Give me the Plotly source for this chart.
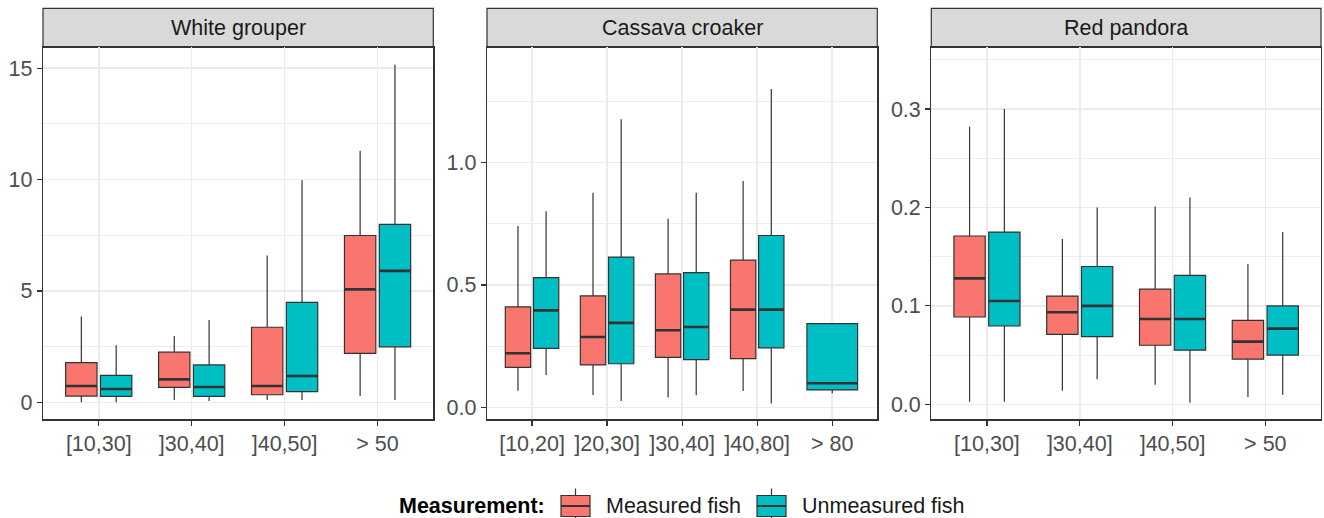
import plotly.graph_objects as go

W, H = 1324, 518

groups = ["Measured fish", "Unmeasured fish"]
colors = ["#F8766D", "#00BFC4"]
species = ["White grouper", "Cassava croaker", "Red pandora"]
legend_title = "Measurement:"

# ---- White grouper ----
wg_cats = ["[10,30]", "]30,40]", "]40,50]", "> 50"]
wg_meas_low = [0.0, 0.10, 0.10, 0.28]
wg_meas_q1 = [0.28, 0.67, 0.34, 2.20]
wg_meas_med = [0.73, 1.03, 0.73, 5.07]
wg_meas_q3 = [1.78, 2.25, 3.37, 7.49]
wg_meas_high = [3.85, 2.98, 6.59, 11.30]
wg_unm_low = [0.0, 0.06, 0.10, 0.10]
wg_unm_q1 = [0.27, 0.27, 0.48, 2.49]
wg_unm_med = [0.60, 0.69, 1.18, 5.90]
wg_unm_q3 = [1.21, 1.68, 4.49, 7.99]
wg_unm_high = [2.56, 3.70, 9.97, 15.16]

# ---- Cassava croaker ----
cc_cats = ["[10,20]", "]20,30]", "]30,40]", "]40,80]", "> 80"]
cc_meas_low = [0.068, 0.050, 0.040, 0.067, None]
cc_meas_q1 = [0.163, 0.173, 0.204, 0.199, None]
cc_meas_med = [0.221, 0.287, 0.315, 0.399, None]
cc_meas_q3 = [0.410, 0.455, 0.545, 0.601, None]
cc_meas_high = [0.741, 0.877, 0.770, 0.925, None]
cc_unm_low = [0.132, 0.026, 0.049, 0.016, 0.057]
cc_unm_q1 = [0.241, 0.178, 0.195, 0.243, 0.071]
cc_unm_med = [0.396, 0.345, 0.328, 0.399, 0.098]
cc_unm_q3 = [0.530, 0.614, 0.550, 0.702, 0.342]
cc_unm_high = [0.801, 1.177, 0.877, 1.301, 0.342]

# ---- Red pandora ----
rp_cats = ["[10,30]", "]30,40]", "]40,50]", "> 50"]
rp_meas_low = [0.0027, 0.0139, 0.020, 0.0075]
rp_meas_q1 = [0.0887, 0.0711, 0.060, 0.046]
rp_meas_med = [0.128, 0.0935, 0.0867, 0.0637]
rp_meas_q3 = [0.171, 0.110, 0.117, 0.0853]
rp_meas_high = [0.282, 0.168, 0.201, 0.1426]
rp_unm_low = [0.0027, 0.0254, 0.0017, 0.0098]
rp_unm_q1 = [0.0796, 0.0687, 0.055, 0.050]
rp_unm_med = [0.105, 0.100, 0.0867, 0.0769]
rp_unm_q3 = [0.175, 0.140, 0.131, 0.100]
rp_unm_high = [0.300, 0.200, 0.210, 0.175]

panels = [
    dict(cats=wg_cats,
         stats=[(wg_meas_low, wg_meas_q1, wg_meas_med, wg_meas_q3, wg_meas_high),
                (wg_unm_low, wg_unm_q1, wg_unm_med, wg_unm_q3, wg_unm_high)],
         yrange=[-0.763, 15.94], dtick=5, minor=2.5, fmt="d"),
    dict(cats=cc_cats,
         stats=[(cc_meas_low, cc_meas_q1, cc_meas_med, cc_meas_q3, cc_meas_high),
                (cc_unm_low, cc_unm_q1, cc_unm_med, cc_unm_q3, cc_unm_high)],
         yrange=[-0.049, 1.471], dtick=0.5, minor=0.25, fmt=".1f"),
    dict(cats=rp_cats,
         stats=[(rp_meas_low, rp_meas_q1, rp_meas_med, rp_meas_q3, rp_meas_high),
                (rp_unm_low, rp_unm_q1, rp_unm_med, rp_unm_q3, rp_unm_high)],
         yrange=[-0.0152, 0.3627], dtick=0.1, minor=0.05, fmt=".1f"),
]

# pixel layout
px_x = [(43, 433.3), (487, 877.3), (931.3, 1321)]
panel_top, panel_bot = 47.3, 419.3
strip_top = 8.3

def fx(p):
    return p / W

def fy(p):
    return (H - p) / H

FONT = "Liberation Sans, Arial, sans-serif"
FS = 21.5
OUTLINE = "#333333"
GRID = "#EBEBEB"

fig = go.Figure()
DODGE = 0.75
PAD = 0.9

for pi, pan in enumerate(panels):
    xa = "x" if pi == 0 else f"x{pi+1}"
    ya = "y" if pi == 0 else f"y{pi+1}"
    med_x, med_y = [], []
    for ci, cat in enumerate(pan["cats"]):
        present = [gi for gi in range(2) if pan["stats"][gi][2][ci] is not None]
        n = len(present)
        slot = DODGE / n
        for k, gi in enumerate(present):
            low, q1, med, q3, high = (s[ci] for s in pan["stats"][gi])
            pos = (ci + 1) - DODGE / 2 + slot * (k + 0.5)
            w = slot * PAD
            fig.add_trace(go.Box(
                x=[pos], q1=[q1], median=[med], q3=[q3],
                lowerfence=[low], upperfence=[high],
                width=w, whiskerwidth=0, boxpoints=False,
                fillcolor=colors[gi], line=dict(color=OUTLINE, width=1.2),
                name=groups[gi], legendgroup=groups[gi], showlegend=False,
                xaxis=xa, yaxis=ya, hoverinfo="skip",
            ))
            med_x += [pos - w / 2, pos + w / 2, None]
            med_y += [med, med, None]
    fig.add_trace(go.Scatter(
        x=med_x, y=med_y, mode="lines", line=dict(color=OUTLINE, width=2.6),
        showlegend=False, hoverinfo="skip", xaxis=xa, yaxis=ya,
    ))

layout = dict(
    width=W, height=H,
    margin=dict(l=0, r=0, t=0, b=0),
    paper_bgcolor="white", plot_bgcolor="white",
    boxmode="overlay",
    font=dict(family=FONT, size=FS, color="#4D4D4D"),
    showlegend=False,
    shapes=[], annotations=[],
)

for pi, pan in enumerate(panels):
    xk = "xaxis" if pi == 0 else f"xaxis{pi+1}"
    yk = "yaxis" if pi == 0 else f"yaxis{pi+1}"
    ya = "y" if pi == 0 else f"y{pi+1}"
    xa = "x" if pi == 0 else f"x{pi+1}"
    n = len(pan["cats"])
    x0, x1 = px_x[pi]
    layout[xk] = dict(
        domain=[fx(x0), fx(x1)], anchor=ya, automargin=False,
        range=[0.4, n + 0.6], tickvals=list(range(1, n + 1)), ticktext=pan["cats"],
        showgrid=True, gridcolor=GRID, gridwidth=1.6, zeroline=False,
        ticks="outside", ticklen=5, tickcolor=OUTLINE, tickwidth=1.2,
        showline=True, mirror=True, linecolor=OUTLINE, linewidth=1.2,
        tickfont=dict(size=FS, color="#4D4D4D"),
    )
    layout[yk] = dict(
        domain=[fy(panel_bot), fy(panel_top)], anchor=xa, automargin=False,
        range=pan["yrange"], dtick=pan["dtick"], tick0=0, tickformat=pan["fmt"],
        showgrid=True, gridcolor=GRID, gridwidth=1.6, zeroline=False,
        minor=dict(dtick=pan["minor"], tick0=0, showgrid=True, gridcolor=GRID,
                   gridwidth=0.9, ticks=""),
        ticks="outside", ticklen=5, tickcolor=OUTLINE, tickwidth=1.2,
        showline=True, mirror=True, linecolor=OUTLINE, linewidth=1.2,
        tickfont=dict(size=FS, color="#4D4D4D"),
    )
    # strip
    layout["shapes"].append(dict(
        type="rect", xref="paper", yref="paper",
        x0=fx(x0), x1=fx(x1), y0=fy(panel_top), y1=fy(strip_top),
        fillcolor="#D9D9D9", line=dict(color=OUTLINE, width=1.2), layer="below",
    ))
    layout["annotations"].append(dict(
        text=species[pi], xref="paper", yref="paper",
        x=fx((x0 + x1) / 2), y=fy((panel_top + strip_top) / 2),
        xanchor="center", yanchor="middle", showarrow=False,
        font=dict(size=FS, color="#1A1A1A"),
    ))

# ---- custom legend (ggplot-style box keys) ----
leg_cy = 506
layout["annotations"].append(dict(
    text=f"<b>{legend_title}</b>", xref="paper", yref="paper",
    x=fx(547), y=fy(leg_cy), xanchor="right", yanchor="middle", showarrow=False,
    font=dict(size=FS, color="black"),
))
key_x0 = [561, 757]
key_w = 29
box_top, box_bot = 495.5, 516.5
wh_top, wh_bot = 488.5, 518
for gi, g in enumerate(groups):
    kx0 = key_x0[gi]
    kx1 = kx0 + key_w
    kc = (kx0 + kx1) / 2
    line = dict(color=OUTLINE, width=1.2)
    layout["shapes"] += [
        dict(type="line", xref="paper", yref="paper", x0=fx(kc), x1=fx(kc),
             y0=fy(wh_top), y1=fy(box_top), line=line),
        dict(type="line", xref="paper", yref="paper", x0=fx(kc), x1=fx(kc),
             y0=fy(box_bot), y1=fy(wh_bot), line=line),
        dict(type="rect", xref="paper", yref="paper", x0=fx(kx0), x1=fx(kx1),
             y0=fy(box_bot), y1=fy(box_top), fillcolor=colors[gi], line=line),
        dict(type="line", xref="paper", yref="paper", x0=fx(kx0), x1=fx(kx1),
             y0=fy((box_top + box_bot) / 2), y1=fy((box_top + box_bot) / 2),
             line=dict(color=OUTLINE, width=2)),
    ]
    layout["annotations"].append(dict(
        text=g, xref="paper", yref="paper",
        x=fx(kx1 + 14), y=fy(leg_cy), xanchor="left", yanchor="middle",
        showarrow=False, font=dict(size=FS, color="#1A1A1A"),
    ))

fig.update_layout(**layout)
fig.write_html(
    "out.html",
    config={"displayModeBar": False, "staticPlot": True},
    post_script="document.body.style.margin='0';document.body.style.overflow='hidden';",
)
